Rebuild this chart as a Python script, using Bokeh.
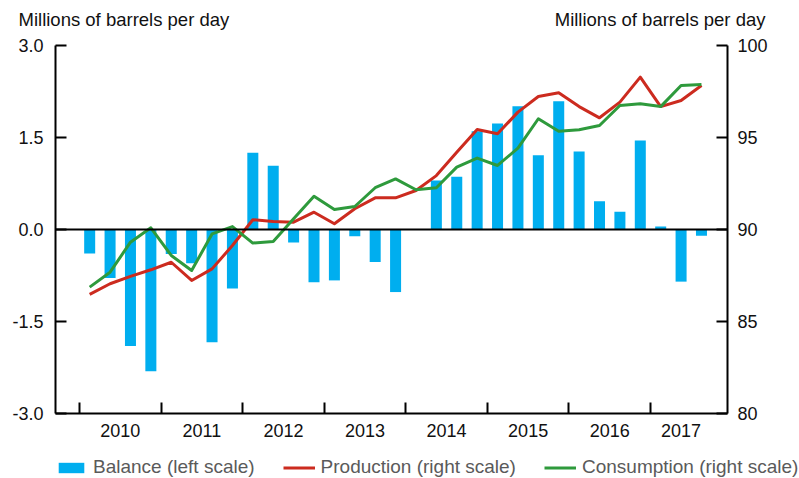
from bokeh.plotting import figure
from bokeh.models import (Range1d, LinearAxis, FixedTicker, NumeralTickFormatter,
                          CustomJSTickFormatter, Legend, LegendItem, Label, ColumnDataSource)
from bokeh.embed import file_html
from bokeh.resources import INLINE

# ---- data (quarterly, 2010Q1 .. 2017Q3) ----
years = [2010, 2011, 2012, 2013, 2014, 2015, 2016, 2017]
quarters_per_year = [4, 4, 4, 4, 4, 4, 4, 3]
balance = [-0.39, -0.79, -1.90, -2.31, -0.40, -0.55, -1.84, -0.96,
           1.25, 1.04, -0.21, -0.86, -0.83, -0.11, -0.53, -1.02,
           0.01, 0.80, 0.86, 1.60, 1.73, 2.01, 1.21, 2.09,
           1.27, 0.46, 0.29, 1.45, 0.05, -0.85, -0.10]
production = [86.47, 87.05, 87.45, 87.81, 88.22, 87.23, 87.86, 89.13,
              90.53, 90.43, 90.40, 90.94, 90.31, 91.13, 91.72, 91.72,
              92.12, 92.93, 94.20, 95.43, 95.20, 96.38, 97.23, 97.43,
              96.68, 96.07, 96.92, 98.28, 96.68, 97.01, 97.83]
consumption = [86.87, 87.68, 89.31, 90.09, 88.59, 87.77, 89.76, 90.16,
               89.26, 89.35, 90.58, 91.81, 91.09, 91.25, 92.27, 92.75,
               92.16, 92.27, 93.39, 93.88, 93.48, 94.42, 96.02, 95.34,
               95.42, 95.65, 96.74, 96.83, 96.68, 97.83, 97.88]
left_ticks = [-3.0, -1.5, 0.0, 1.5, 3.0]
right_ticks = [80, 85, 90, 95, 100]
unit_title = "Millions of barrels per day"

# quarter mid-points in fractional years
xq = []
for y, n in zip(years, quarters_per_year):
    for q in range(n):
        xq.append(y + (q + 0.5) / 4)

src = ColumnDataSource(dict(x=xq, balance=balance, production=production, consumption=consumption))

FONT = "Liberation Sans"
BLUE = "#00aeef"
RED = "#cc2b1f"
GREEN = "#2e9a3c"

# plotting box (in axis units) and the whole canvas extent around it
X0, X1 = 2009.706, 2017.944          # left / right axis positions
Y0, Y1 = left_ticks[0], left_ticks[-1]
R0, R1 = right_ticks[0], right_ticks[-1]
W, H = 799, 478
PL, PR, PT, PB = 55, 72, 45, 65       # pixel margins around the plotting box
sx = (X1 - X0) / (W - PL - PR)
sy = (Y1 - Y0) / (H - PT - PB)
sr = (R1 - R0) / (H - PT - PB)

p = figure(width=W, height=H, output_backend="svg", toolbar_location=None,
           x_range=Range1d(X0 - PL * sx, X1 + PR * sx),
           y_range=Range1d(Y0 - PB * sy, Y1 + PT * sy),
           x_axis_location=None, y_axis_location=None,
           min_border=0)
p.outline_line_color = None
p.grid.visible = False
p.background_fill_color = "white"
p.border_fill_color = "white"
p.extra_y_ranges = {"right": Range1d(R0 - PB * sr, R1 + PT * sr)}

bars = p.vbar(x="x", top="balance", bottom=0, width=0.135, source=src,
              fill_color=BLUE, line_color=None)
lp = p.line(x="x", y="production", source=src, y_range_name="right",
            line_color=RED, line_width=3, line_join="round")
lc = p.line(x="x", y="consumption", source=src, y_range_name="right",
            line_color=GREEN, line_width=3, line_join="round")

def style(ax):
    ax.axis_line_color = "black"
    ax.axis_line_width = 2
    ax.major_label_text_font = FONT
    ax.major_label_text_font_size = "18px"
    ax.major_label_text_color = "#111111"
    ax.major_label_standoff = 10
    ax.major_tick_line_color = "black"
    ax.major_tick_line_width = 2
    ax.major_tick_in = 11
    ax.major_tick_out = 0
    ax.minor_tick_line_color = None

# left axis
ya = LinearAxis(ticker=FixedTicker(ticks=left_ticks), formatter=NumeralTickFormatter(format="0.0"),
                fixed_location=X0, bounds=(Y0, Y1))
style(ya)
ya.major_label_standoff = 12
p.add_layout(ya, "left")

# right axis
ra = LinearAxis(y_range_name="right", ticker=FixedTicker(ticks=right_ticks),
                fixed_location=X1, bounds=(R0, R1))
style(ra)
p.add_layout(ra, "right")

# bottom axis: ticks at year boundaries, labels centred on each year's quarters
label_ticks = [y + n / 8 for y, n in zip(years, quarters_per_year)]
xa = LinearAxis(ticker=FixedTicker(ticks=label_ticks, minor_ticks=years),
                formatter=CustomJSTickFormatter(code="return Math.floor(tick).toString()"),
                fixed_location=Y0, bounds=(X0, X1))
style(xa)
xa.major_tick_in = 0
xa.minor_tick_in = 11
xa.minor_tick_out = 0
xa.minor_tick_line_color = "black"
xa.minor_tick_line_width = 2
p.add_layout(xa, "below")

# zero line of the left scale
za = LinearAxis(ticker=FixedTicker(ticks=[]), fixed_location=0, bounds=(X0, X1))
za.axis_line_color = "black"
za.axis_line_width = 2
za.major_tick_line_color = None
za.minor_tick_line_color = None
za.major_label_text_font_size = "0px"
p.add_layout(za, "below")

# unit titles
p.add_layout(Label(x=X0 - 37 * sx, y=Y1 + 26 * sy, text=unit_title, text_font=FONT,
                   text_font_size="18.5px", text_color="#111111", text_baseline="middle",
                   text_align="left"))
p.add_layout(Label(x=X1 + 38 * sx, y=Y1 + 26 * sy, text=unit_title, text_font=FONT,
                   text_font_size="18.5px", text_color="#111111", text_baseline="middle",
                   text_align="right"))

legend = Legend(items=[LegendItem(label="Balance (left scale)", renderers=[bars]),
                       LegendItem(label="Production (right scale)", renderers=[lp]),
                       LegendItem(label="Consumption (right scale)", renderers=[lc])],
                orientation="horizontal", location=(PL, 0), padding=0, margin=0,
                spacing=28, glyph_width=32, glyph_height=13, label_height=13,
                label_standoff=6, label_text_font=FONT, label_text_font_size="19px",
                label_text_color="#5a5a5a", background_fill_alpha=0, border_line_color=None)
p.add_layout(legend)

open("out.html", "w").write(file_html(p, INLINE))
